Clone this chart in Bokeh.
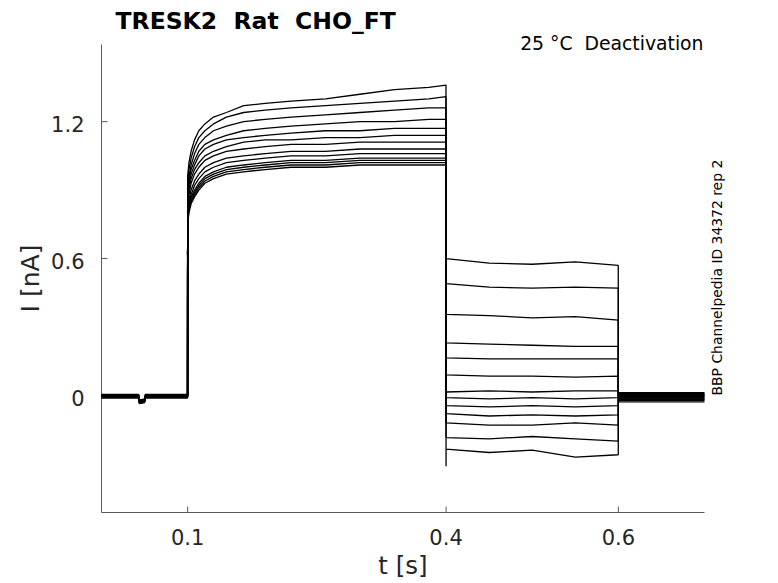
import math
from bokeh.plotting import figure
from bokeh.models import Range1d, Label
from bokeh.core.properties import value
from bokeh.embed import file_html
from bokeh.resources import INLINE

# ---- data ----
t_pre = [0.0, 0.043, 0.044, 0.050, 0.051, 0.0999]
i_pre = [0.0, 0.0, -0.025, -0.02, 0.0, 0.0]

t_act = [0.1, 0.1015, 0.104, 0.108, 0.113, 0.12, 0.13, 0.145, 0.165, 0.19,
         0.22, 0.26, 0.30, 0.34, 0.38, 0.3999]
act = [
    [0.96, 1.02, 1.07, 1.12, 1.16, 1.19, 1.22, 1.24, 1.27, 1.28, 1.29, 1.30, 1.32, 1.34, 1.35, 1.36],
    [0.93, 0.99, 1.04, 1.09, 1.13, 1.16, 1.19, 1.22, 1.24, 1.25, 1.26, 1.27, 1.28, 1.29, 1.30, 1.31],
    [0.90, 0.96, 1.01, 1.06, 1.10, 1.13, 1.16, 1.18, 1.20, 1.21, 1.22, 1.23, 1.24, 1.25, 1.26, 1.26],
    [0.88, 0.94, 0.99, 1.03, 1.07, 1.10, 1.12, 1.14, 1.16, 1.17, 1.18, 1.19, 1.20, 1.20, 1.21, 1.21],
    [0.86, 0.92, 0.97, 1.01, 1.05, 1.08, 1.10, 1.12, 1.13, 1.14, 1.15, 1.16, 1.16, 1.17, 1.17, 1.17],
    [0.84, 0.90, 0.95, 0.99, 1.02, 1.05, 1.07, 1.09, 1.11, 1.12, 1.12, 1.13, 1.13, 1.14, 1.14, 1.14],
    [0.82, 0.88, 0.93, 0.97, 1.00, 1.03, 1.05, 1.07, 1.08, 1.09, 1.10, 1.10, 1.11, 1.11, 1.11, 1.11],
    [0.80, 0.86, 0.90, 0.94, 0.97, 1.00, 1.02, 1.04, 1.05, 1.06, 1.07, 1.07, 1.08, 1.08, 1.08, 1.08],
    [0.79, 0.84, 0.88, 0.92, 0.95, 0.98, 1.00, 1.02, 1.03, 1.04, 1.05, 1.05, 1.06, 1.06, 1.06, 1.06],
    [0.78, 0.83, 0.87, 0.90, 0.93, 0.96, 0.98, 1.00, 1.01, 1.02, 1.03, 1.03, 1.04, 1.04, 1.04, 1.04],
    [0.77, 0.82, 0.86, 0.89, 0.92, 0.95, 0.97, 0.99, 1.00, 1.01, 1.02, 1.02, 1.03, 1.03, 1.03, 1.03],
    [0.76, 0.81, 0.85, 0.88, 0.91, 0.94, 0.96, 0.98, 0.99, 1.00, 1.01, 1.01, 1.02, 1.02, 1.02, 1.02],
    [0.75, 0.80, 0.84, 0.87, 0.90, 0.93, 0.95, 0.97, 0.98, 0.99, 1.00, 1.00, 1.01, 1.01, 1.01, 1.01],
]

t_deact = [0.4, 0.45, 0.5, 0.55, 0.5999]
deact = [
    [0.60, 0.58, 0.575, 0.585, 0.57],
    [0.49, 0.475, 0.47, 0.475, 0.47],
    [0.355, 0.35, 0.34, 0.345, 0.33],
    [0.23, 0.225, 0.22, 0.215, 0.215],
    [0.165, 0.16, 0.16, 0.16, 0.16],
    [0.09, 0.085, 0.085, 0.08, 0.085],
    [0.015, 0.02, 0.015, 0.02, 0.02],
    [-0.01, -0.015, -0.01, -0.015, -0.01],
    [-0.045, -0.05, -0.045, -0.05, -0.045],
    [-0.08, -0.09, -0.085, -0.09, -0.085],
    [-0.12, -0.13, -0.13, -0.12, -0.13],
    [-0.185, -0.19, -0.18, -0.19, -0.20],
    [-0.235, -0.25, -0.24, -0.27, -0.26],
]
spike_low = -0.31

t_post = [0.6, 0.7]
i_post = [0.012, 0.006, 0.0, -0.005, -0.01, -0.015, -0.022, 0.008, -0.003, -0.012,
          -0.018, 0.003, -0.028]

x_ticks = [0.1, 0.4, 0.6]
y_ticks = [0, 0.6, 1.2]
x_tick_labels = ["0.1", "0.4", "0.6"]
y_tick_labels = ["0", "0.6", "1.2"]
x_lim = [0.0, 0.7]
y_lim = [-0.513, 1.538]

title_text = "TRESK2\u00a0 Rat\u00a0 CHO_FT"
cond_text = "25 °C\u00a0 Deactivation"
side_text = "BBP Channelpedia ID 34372 rep 2"

# ---- build traces ----
xs, ys = [], []
for k in range(len(act)):
    x = list(t_pre) + list(t_act)
    y = [v + i_post[k] * 0.4 for v in i_pre] + list(act[k])
    if k == len(act) - 1:
        x.append(0.4)
        y.append(spike_low)
    x += list(t_deact) + list(t_post)
    y += list(deact[k]) + [i_post[k]] * len(t_post)
    xs.append(x)
    ys.append(y)

# ---- layout: frame covers the whole canvas; axes drawn box-off style ----
W, H = 770, 580
L_PX, T_PX = 101, 44            # data-area left / top in canvas pixels
px_x = (x_lim[1] - x_lim[0]) / 603.0
px_y = (y_lim[1] - y_lim[0]) / 468.0

FONT = "DejaVu Sans"
AX = "#5a5a5a"
TXT = "#262626"

p = figure(frame_width=W, frame_height=H, output_backend="svg", toolbar_location=None,
           x_axis_type=None, y_axis_type=None,
           x_range=Range1d(x_lim[0] - L_PX * px_x, x_lim[0] + (W - L_PX) * px_x),
           y_range=Range1d(y_lim[1] - (H - T_PX) * px_y, y_lim[1] + T_PX * px_y),
           min_border_left=0, min_border_top=0, min_border_right=0, min_border_bottom=0)
p.outline_line_color = None
p.grid.visible = False
p.background_fill_color = "white"
p.border_fill_color = "white"

# axis lines
p.segment(x0=[x_lim[0], x_lim[0]], y0=[y_lim[0], y_lim[0]],
          x1=[x_lim[1], x_lim[0]], y1=[y_lim[0], y_lim[1]], line_color=AX, line_width=1)
# inward tick marks
tick = 6
p.segment(x0=x_ticks, y0=[y_lim[0]] * len(x_ticks), x1=x_ticks,
          y1=[y_lim[0] + tick * px_y] * len(x_ticks), line_color=AX, line_width=1)
p.segment(x0=[x_lim[0]] * len(y_ticks), y0=y_ticks, x1=[x_lim[0] + tick * px_x] * len(y_ticks),
          y1=y_ticks, line_color=AX, line_width=1)

# traces
p.multi_line(xs, ys, line_color="black", line_width=1.3)

# tick labels
p.text(x=x_ticks, y=[y_lim[0] - 24.0 * px_y] * len(x_ticks), text=x_tick_labels,
       text_font=value(FONT), text_font_size="21px", text_color=TXT,
       text_align="center", text_baseline="middle")
p.text(x=[x_lim[0] - 17 * px_x] * len(y_ticks), y=[v - 2.5 * px_y for v in y_ticks],
       text=y_tick_labels, text_font=value(FONT), text_font_size="21px", text_color=TXT,
       text_align="right", text_baseline="middle")

# axis labels
p.add_layout(Label(x=(x_lim[0] + x_lim[1]) / 2, y=y_lim[0] - 53 * px_y, text="t [s]",
                   text_font=FONT, text_font_size="24.5px", text_color=TXT,
                   text_align="center", text_baseline="middle"))
p.add_layout(Label(x=x_lim[0] - 71 * px_x, y=(y_lim[0] + y_lim[1]) / 2, text="I [nA]",
                   text_font=FONT, text_font_size="25px", text_color=TXT, angle=math.pi / 2,
                   text_align="center", text_baseline="middle"))

# titles / annotations
p.add_layout(Label(x=x_lim[0] + 14 * px_x, y=y_lim[1] + 24 * px_y, text=title_text,
                   text_font=FONT, text_font_size="23.5px", text_font_style="bold",
                   text_color="black", text_baseline="middle", text_align="left"))
p.add_layout(Label(x=x_lim[1] - 1 * px_x, y=y_lim[1] + 1.5 * px_y, text=cond_text,
                   text_font=FONT, text_font_size="18.8px", text_color="black",
                   text_baseline="middle", text_align="right"))
p.add_layout(Label(x=x_lim[1] + 12 * px_x, y=0.0, text=side_text, text_font=FONT,
                   text_font_size="13.9px", text_color="black", angle=math.pi / 2,
                   text_baseline="middle", text_align="left"))

open("out.html", "w").write(file_html(p, INLINE))
